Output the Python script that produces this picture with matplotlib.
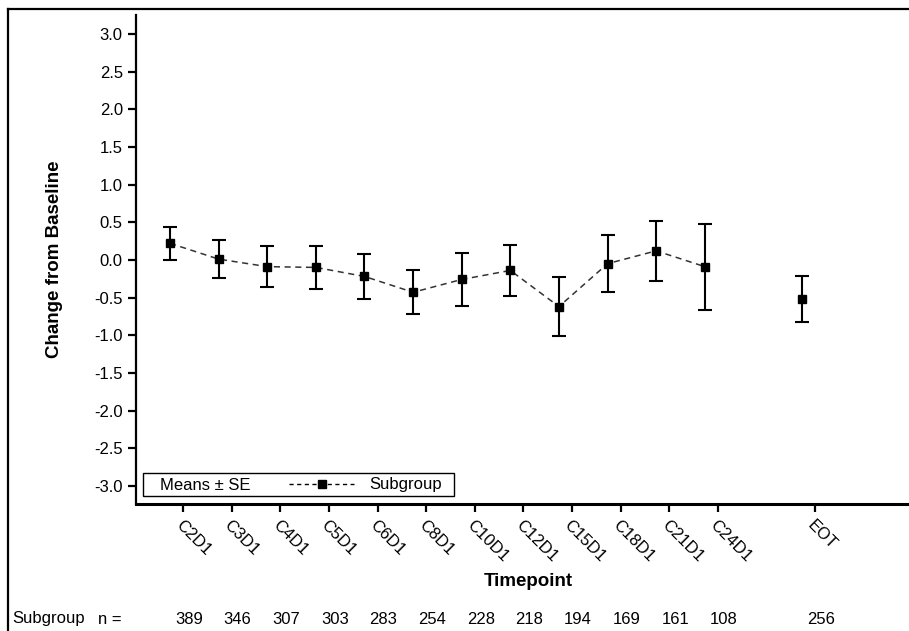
import matplotlib
matplotlib.use("Agg")
import matplotlib.pyplot as plt
from matplotlib.lines import Line2D
from matplotlib.patches import Rectangle
from matplotlib.ticker import FuncFormatter
import matplotlib.transforms as mtransforms

plt.rcParams['font.family'] = ['Liberation Sans', 'DejaVu Sans']
plt.rcParams['font.size'] = 12

timepoints = ['C2D1', 'C3D1', 'C4D1', 'C5D1', 'C6D1', 'C8D1', 'C10D1',
              'C12D1', 'C15D1', 'C18D1', 'C21D1', 'C24D1', 'EOT']
xpos = [1, 2, 3, 4, 5, 6, 7, 8, 9, 10, 11, 12, 14]
means = [0.22, 0.01, -0.09, -0.10, -0.22, -0.43, -0.26, -0.14, -0.62,
         -0.05, 0.12, -0.09, -0.52]
se = [0.22, 0.25, 0.27, 0.28, 0.30, 0.29, 0.35, 0.34, 0.39, 0.38, 0.40,
      0.57, 0.31]
n_counts = [389, 346, 307, 303, 283, 254, 228, 218, 194, 169, 161, 108, 256]

fig = plt.figure(figsize=(9.09, 6.31), dpi=100)
ax = fig.add_axes([136 / 909, 1 - 504 / 631, 1 - 136 / 909, (504 - 15) / 631])

# connecting dashed line (cycle visits only, EOT stands alone)
ax.plot(xpos[:-1], means[:-1], color='#333333', lw=1.1, ls=(0, (4, 3)), zorder=2)
ax.errorbar(xpos, means, yerr=se, fmt='s', color='black', ms=6,
            elinewidth=1.5, capsize=5, capthick=1.5, zorder=3)

ax.set_xlim(0.30, 16.2)
ax.set_ylim(-3.24, 3.25)
ax.set_yticks([v / 2 for v in range(-6, 7)])
ax.yaxis.set_major_formatter(FuncFormatter(lambda v, p: f"{v:.1f}"))

tick_off = 0.27
ax.set_xticks([x + tick_off for x in xpos])
ax.set_xticklabels(timepoints, rotation=-45, ha='left', va='top',
                   rotation_mode='anchor')
ax.tick_params(axis='both', direction='out', length=6, width=1.6, labelsize=12)
ax.tick_params(axis='x', pad=4)

for s in ['top', 'right']:
    ax.spines[s].set_visible(False)
ax.spines['left'].set_linewidth(1.6)
ax.spines['bottom'].set_linewidth(2.2)

ax.set_ylabel('Change from Baseline', fontweight='bold', fontsize=13.5)
ax.yaxis.set_label_coords(-(136 - 63) / 773, 0.5)

# legend box
ax.add_patch(Rectangle(((142.7 - 136) / 773, (504 - 496) / 489),
                       (454 - 142.7) / 773, (496 - 473.3) / 489,
                       transform=ax.transAxes, fc='white', ec='black',
                       lw=1.0, zorder=5, clip_on=False))
ax.text((160 - 136) / 773, (504 - 485) / 489, 'Means \u00b1 SE',
        transform=ax.transAxes, va='center', ha='left', fontsize=12, zorder=6)
h = Line2D([], [], color='black', ls=(0, (3, 2.5)), lw=1.0, marker='s', ms=5.5)
leg = ax.legend([h], ['Subgroup'], loc='center left',
                bbox_to_anchor=((289 - 136) / 773, (504 - 485) / 489),
                frameon=False, borderpad=0, borderaxespad=0,
                handlelength=3.9, handletextpad=0.9, fontsize=12)
leg.set_zorder(6)

fig.text(528 / 909, 1 - 582 / 631, 'Timepoint', ha='center', va='center',
         fontweight='bold', fontsize=13.5)

# n = row under the axis
trans = mtransforms.blended_transform_factory(ax.transData, fig.transFigure)
fig.text(12 / 909, 1 - 619 / 631, 'Subgroup', ha='left', va='center', fontsize=12)
fig.text(98 / 909, 1 - 619 / 631, 'n =', ha='left', va='center', fontsize=12)
for x, n in zip(xpos, n_counts):
    ax.text(x + 0.39, 1 - 619 / 631, str(n), transform=trans, ha='center',
            va='center', fontsize=12, clip_on=False)

# outer frame (top and left edges visible)
fig.add_artist(Line2D([8 / 909, 1], [1 - 9 / 631, 1 - 9 / 631],
                      transform=fig.transFigure, color='black', lw=1.6))
fig.add_artist(Line2D([8 / 909, 8 / 909], [0, 1 - 9 / 631],
                      transform=fig.transFigure, color='black', lw=1.6))

fig.savefig('out.png', dpi=100)
